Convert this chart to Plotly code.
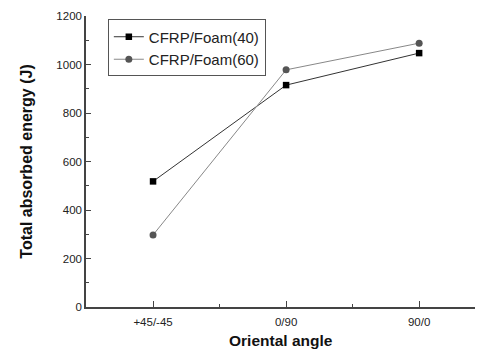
import plotly.graph_objects as go

categories = ["+45/-45", "0/90", "90/0"]
foam40 = [518, 915, 1047]
foam60 = [297, 978, 1088]
names = ["CFRP/Foam(40)", "CFRP/Foam(60)"]
x_title = "Oriental angle"
y_title = "Total absorbed energy (J)"

fig = go.Figure()
fig.add_trace(go.Scatter(x=[0, 1, 2], y=foam40, name=names[0], mode="lines+markers",
                         line=dict(color="#333333", width=1),
                         marker=dict(symbol="square", size=6.5, color="#000000")))
fig.add_trace(go.Scatter(x=[0, 1, 2], y=foam60, name=names[1], mode="lines+markers",
                         line=dict(color="#888888", width=1),
                         marker=dict(symbol="circle", size=7, color="#555555")))

fig.update_layout(
    width=475, height=342,
    margin=dict(l=78, r=0, t=8, b=43),
    paper_bgcolor="white", plot_bgcolor="white",
    font=dict(family="Liberation Sans, Arial, sans-serif", color="#222222", size=11.5),
    showlegend=True,
    legend=dict(x=0.055, y=0.988, xanchor="left", yanchor="top",
                bordercolor="#555555", borderwidth=1, bgcolor="white",
                font=dict(size=15, color="#222222"), tracegroupgap=0,
                itemwidth=30),
    xaxis=dict(
        range=[-0.504, 2.48], automargin=False,
        tickmode="array", tickvals=[0, 1, 2], ticktext=categories,
        ticks="inside", ticklen=6, tickcolor="#444444", tickwidth=1,
        ticklabelstandoff=3,
        minor=dict(tickvals=[0.5, 1.5], ticks="inside", ticklen=3, tickcolor="#444444"),
        showline=True, linecolor="#444444", linewidth=1.5,
        showgrid=False, zeroline=False,
    ),
    yaxis=dict(
        range=[0, 1200], automargin=False,
        tickvals=[0, 200, 400, 600, 800, 1000, 1200],
        ticks="inside", ticklen=5, tickcolor="#444444", tickwidth=1,
        minor=dict(dtick=100, ticks="inside", ticklen=3, tickcolor="#444444"),
        showline=True, linecolor="#444444", linewidth=1.5,
        showgrid=False, zeroline=False,
        title=dict(text="<b>" + y_title + "</b>", font=dict(size=16, color="#111111"), standoff=20),
    ),
)
fig.add_annotation(text="<b>" + x_title + "</b>", xref="paper", yref="paper", x=0.49, y=0,
                   xanchor="center", yanchor="middle", yshift=-33, showarrow=False,
                   font=dict(size=15.5, color="#111111"))

fig.write_html("out.html")
